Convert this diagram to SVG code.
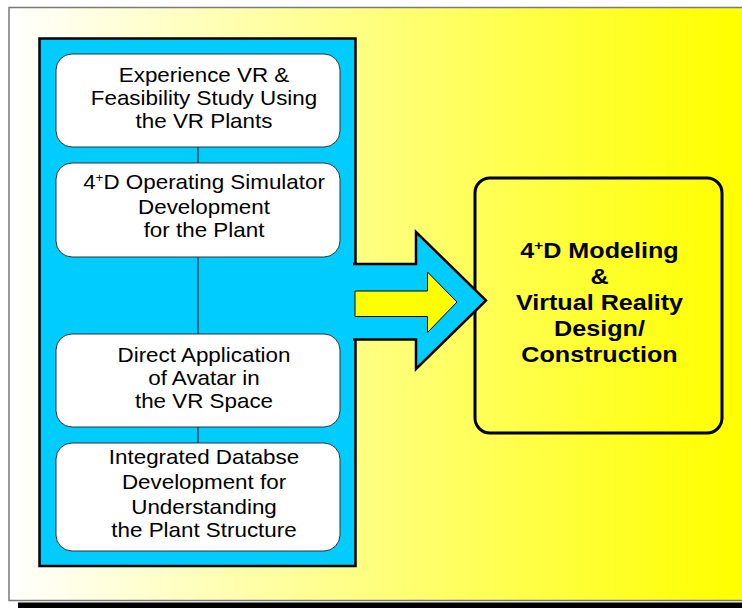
<svg xmlns="http://www.w3.org/2000/svg" width="742" height="608" viewBox="0 0 742 608">
  <defs>
    <linearGradient id="bgFill" gradientUnits="userSpaceOnUse" x1="9" y1="0" x2="730" y2="0">
      <stop offset="0" stop-color="#ffffff"/>
      <stop offset="1" stop-color="#ffff00"/>
    </linearGradient>
    <style>
      .step { fill: #ffffff; stroke: #333333; stroke-width: 1; }
      .link { stroke: #1f2f36; stroke-width: 1.2; fill: none; }
      .lbl { font-family: "Liberation Sans", Arial, sans-serif; font-size: 20px; fill: #000000; text-anchor: middle; }
      .goal { font-family: "Liberation Sans", Arial, sans-serif; font-size: 21.5px; font-weight: bold; fill: #000000; text-anchor: middle; }
    </style>
  </defs>

  <!-- page background with drop shadow bar -->
  <rect x="0" y="0" width="742" height="608" fill="#ffffff"/>
  <rect x="18" y="602.5" width="724" height="5.5" fill="#000000"/>
  <rect x="9" y="7.5" width="740" height="593" fill="url(#bgFill)" stroke="#7a7a7a" stroke-width="1.5"/>

  <!-- blue panel holding the four steps -->
  <g id="panel">
    <rect x="39.5" y="38.5" width="316" height="527.5" fill="#00ccff" stroke="#000000" stroke-width="2.5"/>
  </g>

  <!-- vertical links between steps -->
  <g id="connectors">
    <line class="link" x1="198" y1="147" x2="198" y2="163"/>
    <line class="link" x1="198" y1="257" x2="198" y2="334"/>
    <line class="link" x1="198" y1="427" x2="198" y2="443"/>
  </g>

  <g id="step1">
    <rect class="step" x="56" y="54" width="284" height="93" rx="16"/>
    <g transform="translate(204 0) scale(1.12 1)">
      <text class="lbl" x="0" y="82">Experience VR &amp;</text>
      <text class="lbl" x="0" y="105.5">Feasibility Study Using</text>
      <text class="lbl" x="0" y="128.5">the VR Plants</text>
    </g>
  </g>

  <g id="step2">
    <rect class="step" x="56" y="163" width="284" height="94" rx="16"/>
    <g transform="translate(204 0) scale(1.12 1)">
      <text class="lbl" x="0" y="189">4<tspan font-size="12" dy="-7">+</tspan><tspan dy="7">D Operating Simulator</tspan></text>
      <text class="lbl" x="0" y="214">Development</text>
      <text class="lbl" x="0" y="237">for the Plant</text>
    </g>
  </g>

  <g id="step3">
    <rect class="step" x="56" y="334" width="284" height="93" rx="16"/>
    <g transform="translate(204 0) scale(1.12 1)">
      <text class="lbl" x="0" y="362">Direct Application</text>
      <text class="lbl" x="0" y="385">of Avatar in</text>
      <text class="lbl" x="0" y="408">the VR Space</text>
    </g>
  </g>

  <g id="step4">
    <rect class="step" x="56" y="443" width="284" height="108" rx="16"/>
    <g transform="translate(204 0) scale(1.12 1)">
      <text class="lbl" x="0" y="464">Integrated Databse</text>
      <text class="lbl" x="0" y="489">Development for</text>
      <text class="lbl" x="0" y="514">Understanding</text>
      <text class="lbl" x="0" y="537">the Plant Structure</text>
    </g>
  </g>

  <!-- target box -->
  <g id="goal">
    <rect x="475" y="178" width="247" height="255" rx="15" fill="none" stroke="#000000" stroke-width="3"/>
    <g transform="translate(599.5 0) scale(1.17 1)">
      <text class="goal" x="0" y="258">4<tspan font-size="13" dy="-8">+</tspan><tspan dy="8">D Modeling</tspan></text>
      <text class="goal" x="0" y="284.5">&amp;</text>
      <text class="goal" x="0" y="310">Virtual Reality</text>
      <text class="goal" x="0" y="336.5">Design/</text>
      <text class="goal" x="0" y="362.5">Construction</text>
    </g>
  </g>

  <!-- big arrow from panel into target box -->
  <g id="arrow">
    <path d="M353 264 L416 264 L416 232 L486 300.5 L416 369 L416 339.5 L353 339.5 Z" fill="#00ccff" stroke="none"/>
    <path d="M353 264 L416 264 L416 232 L486 300.5 L416 369 L416 339.5 L353 339.5" fill="none" stroke="#000000" stroke-width="2.5" stroke-linejoin="miter"/>
    <polygon points="355,291 427.5,291 427.5,272 457,302 427.5,332.5 427.5,316.5 355,316.5" fill="#ffff00" stroke="#000000" stroke-width="1"/>
  </g>
</svg>
